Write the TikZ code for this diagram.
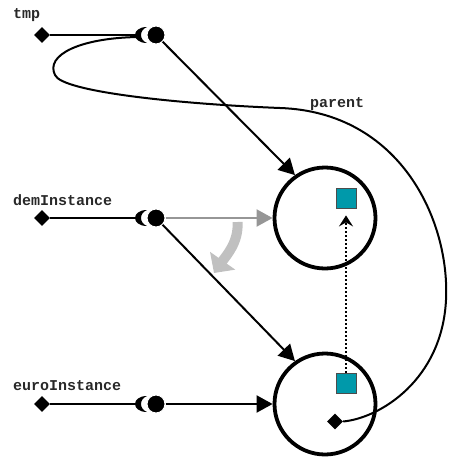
\documentclass[tikz,border=0pt]{standalone}
\usepackage{fontspec}
\setmonofont{Liberation Mono}
\usetikzlibrary{arrows.meta,shapes.geometric}
\definecolor{teal1}{RGB}{0,153,170}
\definecolor{arrgray}{RGB}{150,150,150}
\definecolor{bendgray}{RGB}{192,192,192}
\definecolor{txt}{RGB}{40,40,40}
\tikzset{
  lbl/.style={font=\ttfamily\bfseries\fontsize{15}{15}\selectfont, text=txt, inner sep=0pt, anchor=base west},
  dia/.style={diamond, fill=black, inner sep=0pt, minimum size=16pt},
  obj/.style={circle, draw=black, line width=3.8pt, minimum size=101pt, inner sep=0pt},
  sq/.style={rectangle, fill=teal1, draw=black!70, line width=0.8pt, minimum size=20pt, inner sep=0pt},
  dotnode/.style={circle, fill=black, draw=white, line width=1pt, minimum size=18pt, inner sep=0pt},
  conn/.style={line width=2pt, draw=black},
  arr/.style={conn, -{Triangle[length=16pt,width=17pt]}},
  garr/.style={line width=2pt, draw=arrgray, -{Triangle[length=16pt,width=17pt]}},
  plug/.pic={
    \fill[black] (6,-8) .. controls (-10,-8) and (-10,8) .. (6,8)
                 .. controls (-2,5) and (-2,-5) .. (6,-8);
    \coordinate (-in) at (-3,0);
    \coordinate (-tail) at (-3,2);
    \node[dotnode] (-dot) at (15,0) {};
  }
}
\begin{document}
\begin{tikzpicture}[x=1pt,y=-1pt]
\useasboundingbox (0,0) rectangle (448,458);
% labels
\node[lbl] (ltmp) at (13,18) {tmp};
\node[lbl] (ldem) at (13,205) {demInstance};
\node[lbl] (leuro) at (13,390) {euroInstance};
\node[lbl] (lpar) at (310,107) {parent};
% objects
\node[obj] (c1) at (325,218) {};
\node[obj] (c2) at (325,404) {};
\node[sq] (s1) at (346,198) {};
\node[sq] (s2) at (346,383) {};
% diamonds
\node[dia] (dtmp) at (42,35) {};
\node[dia] (ddem) at (42,218) {};
\node[dia] (deuro) at (42,404) {};
% plugs
\pic (t) at (141,35) {plug};
\pic (d) at (141,218) {plug};
\pic (e) at (141,404) {plug};
% lines from diamonds
\draw[conn] (dtmp) -- (t-in);
\draw[conn] (ddem) -- (d-in);
\draw[conn] (deuro) -- (e-in);
% references
\draw[arr] (t-dot) -- (c1.125);
\draw[garr] (d-dot) -- (c1.west);
\draw[arr] (d-dot) -- (c2.125);
\draw[arr] (e-dot) -- (c2.west);
% parent curve
\node[dia] (pd) at (335,421.5) {};
\draw[conn] (t-tail) .. controls (80,38) and (45,55) .. (55,75)
  .. controls (62,92) and (180,104) .. (280,108)
  .. controls (400,112) and (450,220) .. (446,300)
  .. controls (442,380) and (380,418) .. (pd.east);
% dotted arrow
\draw[line width=1.6pt, dash pattern=on 2pt off 2pt, -{Stealth[length=11pt,width=14pt,inset=4pt]}, shorten >=7pt] (s2.north) -- (s1.south);
% curved gray arrow
\coordinate (ga) at (237.5,222);
\coordinate (gb) at (214,273);
\draw[line width=10pt, draw=bendgray, -{Triangle[length=15pt,width=30pt]}] (ga) .. controls (239,242) and (226,256) .. (gb);
\end{tikzpicture}
\end{document}
